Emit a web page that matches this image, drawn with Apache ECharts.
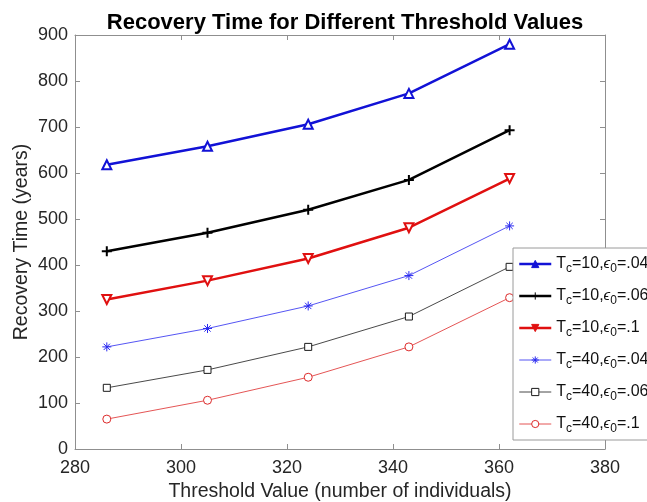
<!DOCTYPE html>
<html>
<head>
<meta charset="utf-8">
<script src="https://cdn.jsdelivr.net/npm/echarts@6/dist/echarts.min.js"></script>
<style>
  html, body { margin: 0; padding: 0; background: #fff; }
  #chart { width: 647px; height: 502px; }
</style>
</head>
<body>
<div id="chart"></div>
<script>
const thresholds = [286, 305, 324, 343, 362]
const tc10e04 = [618, 658, 706, 773, 880]
const tc10e06 = [430, 470, 520, 585, 693]
const tc10e1 = [325, 366, 414, 481, 588]
const tc40e04 = [222, 262, 311, 377, 485]
const tc40e06 = [133, 172, 222, 288, 396]
const tc40e1 = [65, 106, 156, 222, 329]
const tcLabels = ['10', '10', '10', '40', '40', '40']
const epsLabels = ['.04', '.06', '.1', '.04', '.06', '.1']

const font = "'Liberation Sans', Arial, Helvetica, sans-serif"
const axisGray = '#8f8f8f'
const textGray = '#262626'

// asterisk and plus drawn as stroked paths
const plusPath = 'path://M0,5L10,5M5,0L5,10'
const starPath = 'path://M0,5L10,5M5,0L5,10M1.5,1.5L8.5,8.5M8.5,1.5L1.5,8.5'

const pairs = ys => thresholds.map((x, i) => [x, ys[i]])
const names = tcLabels.map((t, i) => 'Tc=' + t + ',e0=' + epsLabels[i])

const styles = [
    { data: tc10e04, color: '#1212d6', width: 2.5, symbol: 'triangle', size: 9, fill: '#fff', bw: 2 },
    { data: tc10e06, color: '#000000', width: 2.5, symbol: plusPath, size: 10, fill: 'transparent', bw: 2 },
    { data: tc10e1, color: '#e01010', width: 2.5, symbol: 'triangle', size: 9, fill: '#fff', bw: 2, rotate: 180 },
    { data: tc40e04, color: '#2a2af0', width: 0.8, symbol: starPath, size: 9, fill: 'transparent', bw: 1 },
    { data: tc40e06, color: '#1a1a1a', width: 0.8, symbol: 'rect', size: 7, fill: '#fff', bw: 1 },
    { data: tc40e1, color: '#dd2a2a', width: 0.8, symbol: 'circle', size: 8, fill: '#fff', bw: 1 }
]

const chart = echarts.init(document.getElementById('chart'), null, { renderer: 'canvas' })

chart.setOption({
    backgroundColor: '#fff',
    animation: false,
    textStyle: { fontFamily: font },
    title: {
        text: 'Recovery Time for Different Threshold Values',
        left: 340,
        textAlign: 'center',
        top: 7,
        textStyle: { fontFamily: font, fontSize: 22, fontWeight: 'bold', color: '#000' }
    },
    grid: { left: 75, right: 42, top: 35, bottom: 53, containLabel: false, outerBoundsMode: 'none' },
    legend: {
        orient: 'vertical',
        left: 513,
        top: 248,
        padding: [5, 5, 5, 5],
        itemWidth: 32,
        itemHeight: 9,
        itemGap: 10,
        backgroundColor: '#fff',
        borderColor: '#9a9a9a',
        borderWidth: 1,
        data: names.map((n, i) => ({
            name: n,
            itemStyle: i < 3
                ? { color: styles[i].color, borderColor: styles[i].color, borderWidth: 1 }
                : { color: styles[i].fill, borderColor: styles[i].color, borderWidth: 1 },
            lineStyle: { color: styles[i].color, width: i < 3 ? 2.5 : 0.8 }
        })),
        formatter: name => {
            const i = names.indexOf(name)
            return 'T{sub|c}=' + tcLabels[i] + ',{eps|\u03f5}{sub|0}=' + epsLabels[i]
        },
        textStyle: {
            fontFamily: font,
            fontSize: 16,
            color: '#111',
            lineHeight: 22,
            rich: {
                sub: { fontFamily: font, fontSize: 12, color: '#111', lineHeight: 6, verticalAlign: 'bottom' },
                eps: { fontFamily: font, fontSize: 15, color: '#111', fontStyle: 'italic', lineHeight: 22 }
            }
        }
    },
    xAxis: [
        {
            type: 'value',
            min: 280,
            max: 380,
            interval: 20,
            name: 'Threshold Value (number of individuals)',
            nameLocation: 'middle',
            nameGap: 33,
            nameMoveOverlap: false,
            nameTextStyle: { fontFamily: font, fontSize: 19.5, color: textGray },
            axisLine: { show: true, lineStyle: { color: axisGray, width: 1 } },
            axisTick: { show: true, inside: true, length: 5, lineStyle: { color: axisGray } },
            axisLabel: { fontFamily: font, fontSize: 18, color: textGray, margin: 10 },
            splitLine: { show: false }
        },
        {
            type: 'value',
            position: 'top',
            min: 280,
            max: 380,
            interval: 20,
            axisLine: { show: true, onZero: false, lineStyle: { color: axisGray, width: 1 } },
            axisTick: { show: true, inside: true, length: 5, lineStyle: { color: axisGray } },
            axisLabel: { show: false },
            splitLine: { show: false }
        }
    ],
    yAxis: [
        {
            type: 'value',
            min: 0,
            max: 900,
            interval: 100,
            name: 'Recovery Time (years)',
            nameLocation: 'middle',
            nameGap: 43,
            nameMoveOverlap: false,
            nameTextStyle: { fontFamily: font, fontSize: 19.5, color: textGray },
            axisLine: { show: true, lineStyle: { color: axisGray, width: 1 } },
            axisTick: { show: true, inside: true, length: 5, lineStyle: { color: axisGray } },
            axisLabel: { fontFamily: font, fontSize: 18, color: textGray, margin: 7 },
            splitLine: { show: false }
        },
        {
            type: 'value',
            position: 'right',
            min: 0,
            max: 900,
            interval: 100,
            axisLine: { show: true, onZero: false, lineStyle: { color: axisGray, width: 1 } },
            axisTick: { show: true, inside: true, length: 5, lineStyle: { color: axisGray } },
            axisLabel: { show: false },
            splitLine: { show: false }
        }
    ],
    series: styles.map((s, i) => ({
        name: names[i],
        type: 'line',
        xAxisIndex: 0,
        yAxisIndex: 0,
        data: pairs(s.data),
        symbol: s.symbol,
        symbolSize: s.size,
        symbolRotate: s.rotate || 0,
        showAllSymbol: true,
        lineStyle: { color: s.color, width: s.width },
        itemStyle: { color: s.fill, borderColor: s.color, borderWidth: s.bw },
        emphasis: { disabled: true }
    }))
})
</script>
</body>
</html>
